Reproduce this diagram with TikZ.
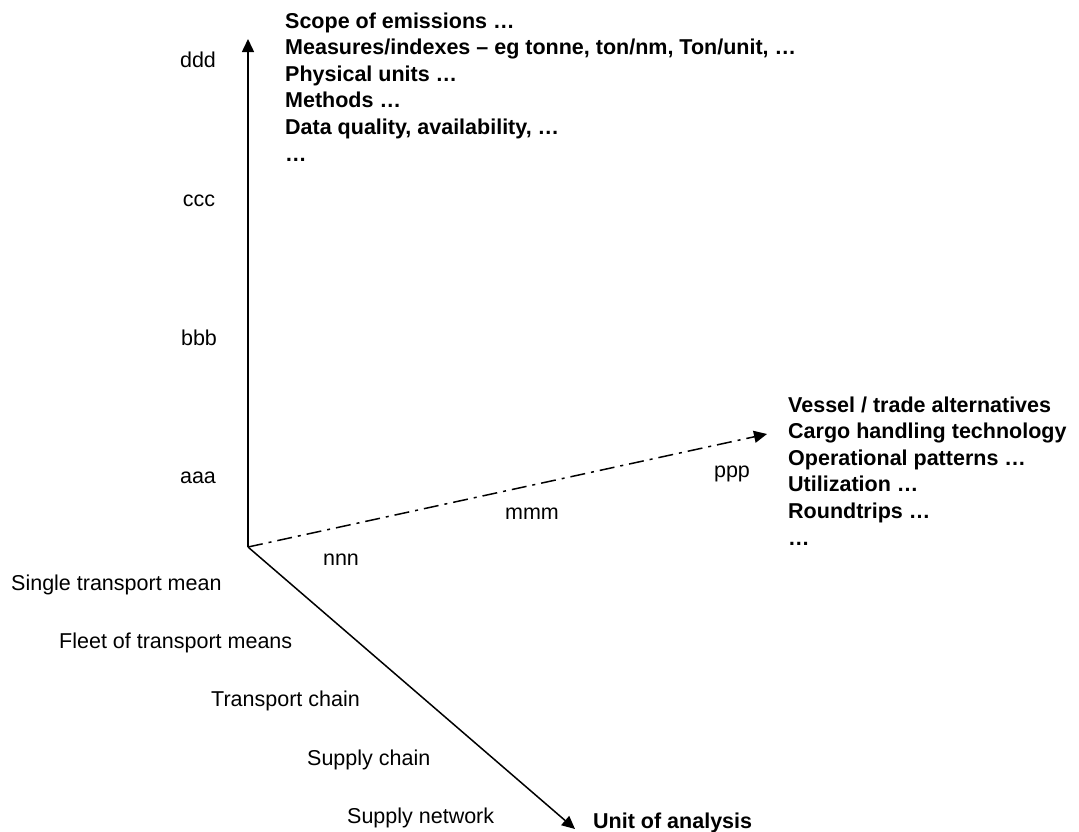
\documentclass[tikz,border=0pt]{standalone}
\usepackage{fontspec}
\setmainfont{Liberation Sans}
\usetikzlibrary{arrows.meta}
\begin{document}
\begin{tikzpicture}[x=1pt,y=-1pt,
  lbl/.style={inner sep=0pt, anchor=base west, font=\fontsize{21.5}{25}\selectfont},
  clbl/.style={inner sep=0pt, anchor=base, font=\fontsize{21.5}{25}\selectfont},
  blbl/.style={inner sep=0pt, anchor=base west, font=\bfseries\fontsize{21.5}{25}\selectfont},
  axis/.style={line width=1.5pt, -{Triangle[length=13pt,width=12pt]}},
  dashaxis/.style={axis, dash pattern=on 15pt off 6pt on 3pt off 6pt}]
\useasboundingbox (0,0) rectangle (1079,831);
% axes
\coordinate (O) at (248,547);
\coordinate (Z) at (248,39);
\coordinate (X) at (767,434);
\coordinate (Y) at (575,829);
\draw[axis] (O) -- (Z);
\draw[dashaxis] (O) -- (X);
\draw[axis] (O) -- (Y);
% vertical axis labels
\node[clbl] (ddd) at (198,67) {ddd};
\node[clbl] (ccc) at (199,206) {ccc};
\node[clbl] (bbb) at (199,345) {bbb};
\node[clbl] (aaa) at (198,483) {aaa};
% top block
\node[blbl] (t1) at (285,28) {Scope of emissions …};
\node[blbl] (t2) at (285,54.6) {Measures/indexes – eg tonne, ton/nm, Ton/unit, …};
\node[blbl] (t3) at (285,81.2) {Physical units …};
\node[blbl] (t4) at (285,107.8) {Methods …};
\node[blbl] (t5) at (285,134.4) {Data quality, availability, …};
\node[blbl] (t6) at (285,161) {…};
% dash axis labels
\node[clbl] (nnn) at (341,565) {nnn};
\node[clbl] (mmm) at (532,519) {mmm};
\node[clbl] (ppp) at (732,477) {ppp};
% right block
\node[blbl] (r1) at (788,412) {Vessel / trade alternatives};
\node[blbl] (r2) at (788,438.6) {Cargo handling technology};
\node[blbl] (r3) at (788,465.2) {Operational patterns …};
\node[blbl] (r4) at (788,491.8) {Utilization …};
\node[blbl] (r5) at (788,518.4) {Roundtrips …};
\node[blbl] (r6) at (788,545) {…};
% diagonal axis labels
\node[lbl] (s1) at (11,590) {Single transport mean};
\node[lbl] (s2) at (59,648) {Fleet of transport means};
\node[lbl] (s3) at (211,706) {Transport chain};
\node[lbl] (s4) at (307,765) {Supply chain};
\node[lbl] (s5) at (347,823) {Supply network};
\node[blbl] (unit) at (593,828) {Unit of analysis};
\end{tikzpicture}
\end{document}
